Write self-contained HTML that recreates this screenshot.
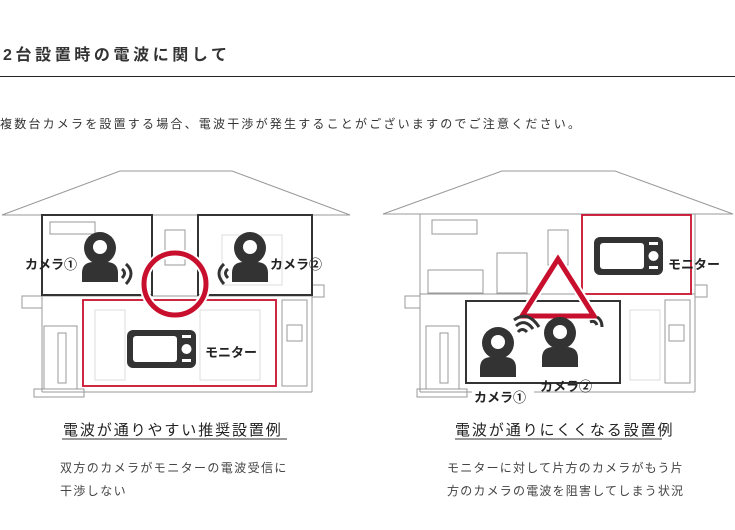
<!DOCTYPE html>
<html><head><meta charset="utf-8"><style>
html,body{margin:0;padding:0;background:#fff;width:735px;height:530px;overflow:hidden}
body{font-family:"Liberation Sans","Noto Sans CJK JP",sans-serif;color:#333;position:relative}
.t{position:absolute;white-space:nowrap}
</style></head><body>
<div class="t" style="left:3px;top:41px;font-size:16px;font-weight:bold;letter-spacing:3.6px;color:#333">2台設置時の電波に関して</div>
<div style="position:absolute;left:0;top:76px;width:735px;height:1px;background:#222"></div>
<div class="t" style="left:0;top:115px;font-size:12px;letter-spacing:2.2px;color:#333">複数台カメラを設置する場合、電波干渉が発生することがございますのでご注意ください。</div>

<svg width="735" height="530" style="position:absolute;left:0;top:0" xmlns="http://www.w3.org/2000/svg">
<defs>
<g id="cam"><circle cx="0" cy="0" r="16" fill="#333"/><circle cx="0" cy="-1" r="7" fill="#fff"/><path d="M-18 34 L-18 25 Q-18 14 -6 14 L6 14 Q18 14 18 25 L18 34 Z" fill="#333"/></g>
<g id="mon"><rect x="0" y="0" width="69" height="38" rx="6" fill="#333"/><rect x="6" y="6" width="44" height="26" rx="3" fill="#fff"/><rect x="55" y="5" width="9" height="3" fill="#fff"/><circle cx="59.5" cy="19" r="5" fill="#fff"/><rect x="55" y="29" width="9" height="3" fill="#fff"/></g>
</defs>
<g fill="none" stroke="#999" stroke-width="1">
<polygon points="2,215 120,171 232,171 350,215"/>
<line x1="42" y1="215" x2="42" y2="392"/><line x1="312" y1="215" x2="312" y2="392"/>
<rect x="22" y="296" width="20" height="12"/>
<rect x="312" y="285" width="12" height="12"/>
<rect x="44" y="326" width="33" height="63"/><rect x="58" y="333" width="8" height="50"/>
<rect x="34" y="389" width="50" height="8"/>
<rect x="282" y="300" width="25" height="86"/><rect x="287" y="325" width="15" height="16"/>
<rect x="165" y="230" width="20" height="35"/>
<rect x="50" y="222" width="45" height="12"/>
<line x1="42" y1="392" x2="312" y2="392"/>
<polygon points="383,214 502,171 615,171 733,214"/>
<line x1="420" y1="214" x2="420" y2="392"/><line x1="695" y1="214" x2="695" y2="392"/>
<rect x="405" y="296" width="15" height="12"/><rect x="695" y="285" width="12" height="12"/>
<rect x="426" y="326" width="33" height="63"/><rect x="440" y="333" width="8" height="50"/>
<rect x="417" y="389" width="50" height="8"/>
<rect x="665" y="300" width="25" height="83"/><rect x="669" y="325" width="15" height="16"/>
<rect x="432" y="220" width="45" height="14"/>
<rect x="497" y="253" width="30" height="40"/><rect x="548" y="230" width="20" height="35"/>
<rect x="428" y="270" width="55" height="23"/>
<line x1="420" y1="294" x2="695" y2="294"/><line x1="42" y1="296" x2="312" y2="296"/>
<line x1="420" y1="392" x2="695" y2="392"/>
</g>
<g fill="none" stroke="#ddd" stroke-width="1">
<rect x="95" y="310" width="30" height="70"/><rect x="200" y="310" width="60" height="70"/>
<rect x="630" y="310" width="30" height="70"/><rect x="222" y="235" width="60" height="50"/>
</g>
<rect x="42" y="215" width="110" height="80" fill="none" stroke="#333" stroke-width="2"/>
<rect x="198" y="215" width="114" height="80" fill="none" stroke="#333" stroke-width="2"/>
<rect x="83" y="300" width="193" height="86" fill="none" stroke="#c8102e" stroke-width="1.8"/>
<circle cx="175" cy="284" r="31" fill="none" stroke="#fff" stroke-width="9"/>
<circle cx="175" cy="284" r="31" fill="none" stroke="#c8102e" stroke-width="5"/>
<use href="#cam" x="100" y="248"/><use href="#cam" x="250" y="248"/>
<g fill="none" stroke="#333" stroke-width="3">
<path d="M122 269 q5 4 0 9"/><path d="M126 264 q10 9 0 20"/>
<path d="M228 269 q-5 4 0 9"/><path d="M224 264 q-10 9 0 20"/>
</g>
<use href="#mon" x="127" y="330"/>
<rect x="582" y="215" width="109" height="79" fill="none" stroke="#c8102e" stroke-width="1.8"/>
<rect x="466" y="301" width="154" height="82" fill="none" stroke="#333" stroke-width="2"/>
<use href="#mon" x="594" y="237"/>
<polygon points="558,259 522,316 594,316" fill="none" stroke="#fff" stroke-width="9" stroke-linejoin="round"/>
<polygon points="558,259 522,316 594,316" fill="none" stroke="#c8102e" stroke-width="5" stroke-linejoin="miter"/>
<use href="#cam" x="498" y="343"/><use href="#cam" x="560" y="333"/>
<g fill="none" stroke="#333" stroke-width="3">
<path d="M518 332 q4 -5 9 0"/><path d="M516 326 q9 -8 17 3"/><path d="M514 320 q14 -10 25 7"/>
<path d="M590 322 q5 -2 7 3"/><path d="M597 317 q5 3 5 10"/>
</g>
<rect x="472" y="389" width="62" height="13" fill="#fff"/>
<line x1="62" y1="439" x2="287" y2="439" stroke="#999" stroke-width="2"/>
<line x1="455" y1="439" x2="662" y2="439" stroke="#999" stroke-width="2"/>
</svg>

<div class="t" style="left:25px;top:254px;font-size:13px;font-weight:bold;color:#222">カメラ①</div>
<div class="t" style="left:270px;top:254px;font-size:13px;font-weight:bold;color:#222">カメラ②</div>
<div class="t" style="left:205px;top:342px;font-size:13px;font-weight:bold;color:#222">モニター</div>
<div class="t" style="left:668px;top:254px;font-size:13px;font-weight:bold;color:#222">モニター</div>
<div class="t" style="left:540px;top:376px;font-size:13px;font-weight:bold;color:#222">カメラ②</div>
<div class="t" style="left:474px;top:387px;font-size:13px;font-weight:bold;color:#222">カメラ①</div>

<div class="t" style="left:63px;top:419px;font-size:15px;letter-spacing:1.9px;color:#222">電波が通りやすい推奨設置例</div>
<div class="t" style="left:455px;top:419px;font-size:15px;letter-spacing:1.9px;color:#222">電波が通りにくくなる設置例</div>
<div class="t" style="left:60px;top:457px;font-size:12px;letter-spacing:1.4px;line-height:23px;color:#444">双方のカメラがモニターの電波受信に<br>干渉しない</div>
<div class="t" style="left:447px;top:457px;font-size:12px;letter-spacing:1.2px;line-height:23px;color:#444">モニターに対して片方のカメラがもう片<br>方のカメラの電波を阻害してしまう状況</div>
</body></html>
